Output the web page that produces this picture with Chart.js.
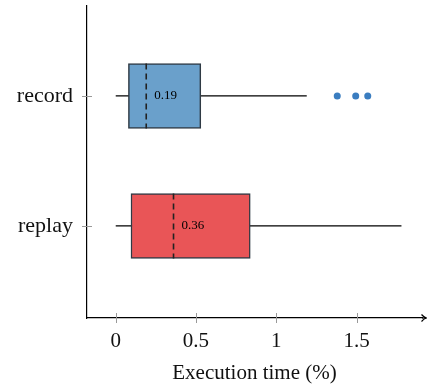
<!DOCTYPE html>
<html>
<head>
<meta charset="utf-8">
<script src="https://cdn.jsdelivr.net/npm/chart.js@4.4.0/dist/chart.umd.min.js"></script>
<style>
  html, body { margin: 0; padding: 0; background: #fff; }
  #wrap { width: 427px; height: 389px; }
</style>
</head>
<body>
<div id="wrap"><canvas id="chart"></canvas></div>
<script>
// box plot values, one entry per category
const categories = ['replay', 'record']
const positions = [0, 1]
const whiskerLow = [0, 0]
const q1 = [0.095, 0.079]
const median = [0.36, 0.19]
const q3 = [0.838, 0.53]
const whiskerHigh = [1.78, 1.19]
const outliers = [[], [1.38, 1.495, 1.57]]
const xTicks = [0, 0.5, 1, 1.5]

const fills = ['#e95557', '#6aa0cb']
const serif = '"Liberation Serif", "DejaVu Serif", serif'

const boxExtras = {
    id: 'boxExtras',
    beforeDatasetsDraw(chart) {
        const { ctx, scales: { x, y } } = chart
        ctx.save()
        ctx.strokeStyle = '#000'
        ctx.lineWidth = 1.2
        positions.forEach((p, i) => {
            const py = y.getPixelForValue(p)
            ctx.beginPath()
            ctx.moveTo(x.getPixelForValue(whiskerLow[i]), py)
            ctx.lineTo(x.getPixelForValue(whiskerHigh[i]), py)
            ctx.stroke()
        })
        ctx.restore()
    },
    afterDatasetsDraw(chart) {
        const { ctx, scales: { x, y } } = chart
        const half = 65 / 2
        ctx.save()
        positions.forEach((p, i) => {
            const py = y.getPixelForValue(p)
            const mx = x.getPixelForValue(median[i])
            ctx.strokeStyle = '#222'
            ctx.lineWidth = 1.6
            ctx.setLineDash([6, 4])
            ctx.beginPath()
            ctx.moveTo(mx, py - half)
            ctx.lineTo(mx, py + half)
            ctx.stroke()
            ctx.setLineDash([])
            ctx.fillStyle = '#000'
            ctx.font = '13px ' + serif
            ctx.textAlign = 'left'
            ctx.textBaseline = 'middle'
            ctx.fillText(median[i].toFixed(2), mx + 8, py)
        })
        ctx.restore()
    },
    afterDraw(chart) {
        const { ctx, chartArea, scales: { x, y } } = chart
        const ay = chartArea.bottom
        const ax = chartArea.left
        ctx.save()
        // tick marks crossing the axes
        ctx.strokeStyle = '#999'
        ctx.lineWidth = 1
        xTicks.forEach(v => {
            const px = Math.round(x.getPixelForValue(v)) + 0.5
            ctx.beginPath()
            ctx.moveTo(px, ay - 5)
            ctx.lineTo(px, ay + 5)
            ctx.stroke()
        })
        positions.forEach(p => {
            const py = Math.round(y.getPixelForValue(p)) + 0.5
            ctx.beginPath()
            ctx.moveTo(ax - 5, py)
            ctx.lineTo(ax + 5, py)
            ctx.stroke()
        })
        // arrow at the end of the x axis
        ctx.strokeStyle = '#000'
        ctx.lineWidth = 1.2
        ctx.beginPath()
        ctx.moveTo(chartArea.right, ay)
        ctx.lineTo(426, ay)
        ctx.stroke()
        ctx.beginPath()
        ctx.moveTo(421.5, ay - 3.5)
        ctx.quadraticCurveTo(424, ay - 0.5, 426.5, ay)
        ctx.quadraticCurveTo(424, ay + 0.5, 421.5, ay + 3.5)
        ctx.stroke()
        ctx.restore()
    }
}

new Chart(document.getElementById('chart'), {
    type: 'bar',
    data: {
        datasets: [
            {
                type: 'bar',
                indexAxis: 'y',
                data: positions.map((p, i) => ({ y: p, x: [q1[i], q3[i]] })),
                backgroundColor: fills,
                borderColor: '#2f3a44',
                borderWidth: 1.5,
                borderSkipped: false,
                barThickness: 65,
            },
            {
                type: 'scatter',
                data: outliers.flatMap((list, i) => list.map(v => ({ x: v, y: positions[i] }))),
                backgroundColor: '#3a7dc0',
                borderWidth: 0,
                pointRadius: 3.5,
            }
        ]
    },
    options: {
        indexAxis: 'y',
        responsive: true,
        maintainAspectRatio: false,
        animation: false,
        events: [],
        layout: {
            padding: { top: 6, right: 5, left: 0, bottom: 0 }
        },
        scales: {
            x: {
                type: 'linear',
                position: 'bottom',
                offset: false,
                min: -0.179,
                max: 1.908,
                afterBuildTicks: s => { s.ticks = xTicks.map(v => ({ value: v })) },
                afterFit: s => { s.height = 71; s.paddingLeft = 0; s.paddingRight = 0 },
                grid: { display: false, drawTicks: false },
                border: { display: true, color: '#000', width: 1.2 },
                ticks: {
                    color: '#111',
                    padding: 11,
                    maxRotation: 0,
                    font: { family: serif, size: 21 },
                    callback: v => String(v),
                },
                title: {
                    display: true,
                    text: 'Execution time (%)',
                    color: '#111',
                    padding: { top: 0, bottom: 3 },
                    font: { family: serif, size: 21 },
                }
            },
            y: {
                type: 'linear',
                position: 'left',
                offset: false,
                min: -0.708,
                max: 1.692,
                afterBuildTicks: s => { s.ticks = positions.map(v => ({ value: v })) },
                afterFit: s => { s.width = 87; s.paddingTop = 0; s.paddingBottom = 0 },
                grid: { display: false, drawTicks: false },
                border: { display: true, color: '#000', width: 1.2 },
                ticks: {
                    color: '#111',
                    padding: 14,
                    font: { family: serif, size: 22 },
                    callback: v => categories[positions.indexOf(v)],
                }
            }
        },
        plugins: {
            legend: { display: false },
            tooltip: { enabled: false },
        }
    },
    plugins: [boxExtras]
})
</script>
</body>
</html>
